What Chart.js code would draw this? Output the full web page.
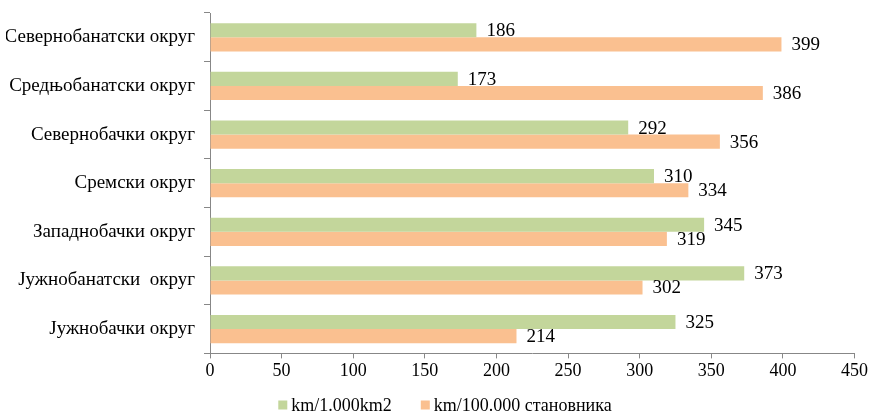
<!DOCTYPE html>
<html lang="sr">
<head>
  <meta charset="UTF-8" />
  <title>Путна мрежа по окрузима</title>
  <script src="https://cdn.jsdelivr.net/npm/chart.js"></script>
  <style>
    body { margin: 0; background: #ffffff; }
    #wrap { width: 870px; height: 415px; }
  </style>
</head>
<body>
  <div id="wrap"><canvas id="roadChart" width="870" height="415"></canvas></div>

  <script>
    const districts = [
      'Севернобанатски округ',
      'Средњобанатски округ',
      'Севернобачки округ',
      'Сремски округ',
      'Западнобачки округ',
      'Јужнобанатски  округ',
      'Јужнобачки округ'
    ];
    const perArea = [186, 173, 292, 310, 345, 373, 325];
    const perPopulation = [399, 386, 356, 334, 319, 302, 214];
    const seriesNames = ['km/1.000km2', 'km/100.000 становника'];
    const seriesColors = ['#c3d69b', '#fac090'];

    const serif = '"Liberation Serif", "Times New Roman", serif';
    const axisGray = '#878787';

    // value labels at the end of each bar
    const barValues = {
      id: 'barValues',
      afterDatasetsDraw(chart) {
        const ctx = chart.ctx;
        ctx.save();
        ctx.font = '19px ' + serif;
        ctx.fillStyle = '#000';
        ctx.textAlign = 'left';
        ctx.textBaseline = 'middle';
        chart.data.datasets.forEach((ds, i) => {
          chart.getDatasetMeta(i).data.forEach((bar, j) => {
            ctx.fillText(ds.data[j], bar.x + 10, bar.y + 1);
          });
        });
        ctx.restore();
      }
    };

    // small square legend under the axis, like the spreadsheet one
    const bottomLegend = {
      id: 'bottomLegend',
      afterDraw(chart) {
        const ctx = chart.ctx;
        const box = 9, gap = 4, spacing = 29;
        ctx.save();
        ctx.font = '18px ' + serif;
        ctx.textBaseline = 'middle';
        ctx.textAlign = 'left';
        const items = chart.data.datasets.map(ds => ({
          text: ds.label, color: ds.backgroundColor, w: ctx.measureText(ds.label).width
        }));
        const total = items.reduce((s, it) => s + box + gap + it.w, 0) + spacing * (items.length - 1);
        let x = chart.width / 2 + 10 - total / 2;
        const y = chart.height - 10;
        items.forEach(it => {
          ctx.fillStyle = it.color;
          ctx.fillRect(x, y - box / 2, box, box);
          ctx.fillStyle = '#000';
          ctx.fillText(it.text, x + box + gap, y + 1);
          x += box + gap + it.w + spacing;
        });
        ctx.restore();
      }
    };

    new Chart(document.getElementById('roadChart'), {
      type: 'bar',
      data: {
        labels: districts,
        datasets: [
          {
            label: seriesNames[0],
            data: perArea,
            backgroundColor: seriesColors[0],
            categoryPercentage: 0.58,
            barPercentage: 1.0
          },
          {
            label: seriesNames[1],
            data: perPopulation,
            backgroundColor: seriesColors[1],
            categoryPercentage: 0.58,
            barPercentage: 1.0
          }
        ]
      },
      options: {
        indexAxis: 'y',
        responsive: false,
        animation: false,
        layout: { padding: { top: 13, right: 4, left: 6, bottom: 31 } },
        scales: {
          x: {
            min: 0,
            max: 450,
            ticks: { stepSize: 50, color: '#000', font: { family: serif, size: 18 }, padding: 2 },
            grid: { drawOnChartArea: false, tickLength: 5, color: axisGray },
            border: { color: axisGray }
          },
          y: {
            afterFit(scale) {
              scale.width = 204;
              scale.paddingTop = 0;
              scale.paddingBottom = 0;
            },
            ticks: { color: '#000', font: { family: serif, size: 19 }, padding: 9 },
            grid: { drawOnChartArea: false, offset: true, tickLength: 6, color: axisGray },
            border: { color: axisGray }
          }
        },
        plugins: {
          legend: { display: false },
          tooltip: { enabled: false }
        }
      },
      plugins: [barValues, bottomLegend]
    });
  </script>
</body>
</html>
